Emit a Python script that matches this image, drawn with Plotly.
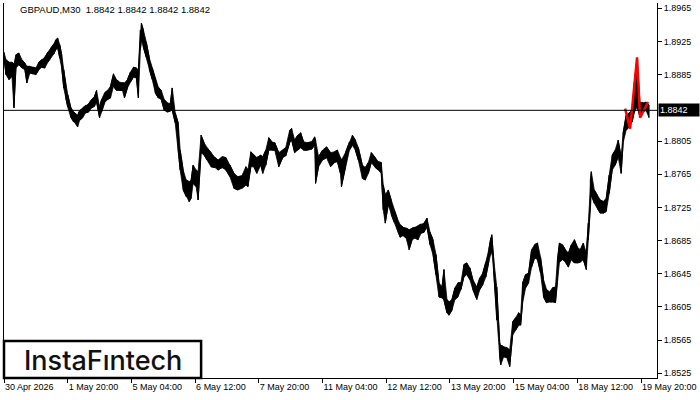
import plotly.graph_objects as go

# ---- data ----
bar = [0,2,5,8,10,12,15,18,21,23,26,29,32,35,38,41,44,47,50,52,54,56,58,60,62,64,67,70,72,74,76,79,82,85,88,91,93,96,98,101,104,107,110,113,116,119,121,124,127,130,133,135,137,138,140,143,146,149,152,155,158,161,164,167,169,172,175,177,180,183,186,188,190,193,195,198,201,204,208,212,215,219,223,227,231,235,239,243,245,248,251,254,258,260,263,266,269,272,276,280,283,287,289,292,295,298,301,305,309,312,313,316,320,324,328,332,335,338,339,343,347,350,353,356,360,363,366,369,373,376,379,381,383,386,389,392,395,398,401,404,407,410,413,416,419,422,425,428,431,434,437,440,442,445,447,450,453,456,459,462,465,468,471,475,478,481,484,487,489,490,492,495,498,499,502,505,508,511,514,517,519,521,524,527,530,533,536,539,542,545,548,551,554,556,558,561,564,567,570,573,576,579,582,585,587,589,590,593,596,599,602,605,608,611,614,617,620,622,625,628,631,633,636,639,642,645,648]

high = [1.8912,1.8903,1.8900,1.8900,1.8898,1.8909,1.8911,1.8903,1.8899,1.8895,1.8895,1.8894,1.8893,1.8900,1.8903,1.8906,1.8912,1.8917,1.8922,1.8927,1.8929,1.8921,1.8909,1.8891,1.8873,1.8861,1.8846,1.8840,1.8838,1.8836,1.8842,1.8845,1.8848,1.8850,1.8855,1.8859,1.8866,1.8846,1.8855,1.8863,1.8866,1.8871,1.8886,1.8879,1.8876,1.8875,1.8875,1.8879,1.8888,1.8894,1.8893,1.8891,1.8939,1.8947,1.8939,1.8924,1.8905,1.8893,1.8879,1.8870,1.8866,1.8855,1.8851,1.8850,1.8869,1.8839,1.8827,1.8794,1.8770,1.8758,1.8756,1.8758,1.8776,1.8770,1.8768,1.8812,1.8803,1.8797,1.8791,1.8785,1.8782,1.8786,1.8785,1.8776,1.8766,1.8762,1.8763,1.8774,1.8770,1.8792,1.8788,1.8785,1.8788,1.8786,1.8794,1.8809,1.8804,1.8803,1.8791,1.8794,1.8797,1.8818,1.8820,1.8806,1.8812,1.8815,1.8804,1.8803,1.8804,1.8810,1.8806,1.8786,1.8794,1.8798,1.8791,1.8792,1.8794,1.8785,1.8782,1.8791,1.8804,1.8812,1.8806,1.8797,1.8776,1.8773,1.8779,1.8791,1.8785,1.8780,1.8779,1.8752,1.8740,1.8746,1.8734,1.8722,1.8712,1.8704,1.8701,1.8700,1.8698,1.8700,1.8701,1.8703,1.8705,1.8706,1.8712,1.8695,1.8686,1.8668,1.8634,1.8629,1.8650,1.8614,1.8611,1.8614,1.8628,1.8634,1.8634,1.8656,1.8658,1.8652,1.8638,1.8629,1.8640,1.8646,1.8659,1.8674,1.8688,1.8692,1.8662,1.8629,1.8562,1.8559,1.8557,1.8556,1.8553,1.8587,1.8592,1.8598,1.8595,1.8634,1.8644,1.8646,1.8674,1.8680,1.8682,1.8665,1.8638,1.8626,1.8623,1.8628,1.8629,1.8662,1.8682,1.8680,1.8674,1.8670,1.8680,1.8686,1.8677,1.8674,1.8682,1.8670,1.8706,1.8758,1.8768,1.8746,1.8740,1.8734,1.8732,1.8736,1.8764,1.8788,1.8794,1.8806,1.8786,1.8815,1.8836,1.8839,1.8842,1.8873,1.8905,1.8851,1.8851,1.8852,1.8848]

low = [1.8905,1.8885,1.8879,1.8883,1.8845,1.8893,1.8897,1.8893,1.8891,1.8875,1.8887,1.8886,1.8885,1.8891,1.8894,1.8893,1.8900,1.8905,1.8910,1.8915,1.8917,1.8905,1.8893,1.8869,1.8857,1.8846,1.8834,1.8828,1.8826,1.8822,1.8830,1.8833,1.8839,1.8840,1.8845,1.8847,1.8852,1.8833,1.8840,1.8851,1.8855,1.8857,1.8871,1.8866,1.8866,1.8866,1.8857,1.8869,1.8876,1.8882,1.8881,1.8857,1.8915,1.8927,1.8918,1.8906,1.8891,1.8879,1.8863,1.8857,1.8855,1.8842,1.8840,1.8841,1.8842,1.8827,1.8794,1.8770,1.8746,1.8738,1.8732,1.8736,1.8754,1.8750,1.8734,1.8791,1.8788,1.8782,1.8774,1.8773,1.8770,1.8773,1.8770,1.8762,1.8748,1.8746,1.8748,1.8752,1.8750,1.8774,1.8774,1.8766,1.8776,1.8766,1.8776,1.8794,1.8794,1.8794,1.8774,1.8785,1.8787,1.8803,1.8806,1.8791,1.8794,1.8797,1.8794,1.8794,1.8795,1.8800,1.8754,1.8774,1.8782,1.8785,1.8774,1.8779,1.8780,1.8766,1.8750,1.8774,1.8794,1.8800,1.8794,1.8782,1.8760,1.8758,1.8766,1.8779,1.8773,1.8770,1.8766,1.8722,1.8706,1.8728,1.8716,1.8707,1.8698,1.8689,1.8691,1.8688,1.8674,1.8686,1.8688,1.8686,1.8694,1.8695,1.8701,1.8680,1.8668,1.8644,1.8617,1.8616,1.8613,1.8598,1.8595,1.8601,1.8614,1.8617,1.8626,1.8641,1.8644,1.8638,1.8626,1.8614,1.8626,1.8632,1.8641,1.8659,1.8668,1.8674,1.8646,1.8589,1.8545,1.8535,1.8545,1.8544,1.8533,1.8571,1.8577,1.8583,1.8583,1.8610,1.8628,1.8634,1.8653,1.8664,1.8662,1.8646,1.8617,1.8610,1.8611,1.8611,1.8610,1.8638,1.8659,1.8662,1.8659,1.8653,1.8662,1.8658,1.8658,1.8659,1.8662,1.8650,1.8686,1.8728,1.8740,1.8730,1.8724,1.8718,1.8718,1.8720,1.8742,1.8770,1.8776,1.8786,1.8766,1.8803,1.8818,1.8822,1.8828,1.8839,1.8846,1.8834,1.8840,1.8842,1.8833]

pattern_bar = [624, 629, 636, 639, 647]
pattern_price = [1.8844, 1.8820, 1.8906, 1.8833, 1.8852]

current_price = 1.8842
title_text = "GBPAUD,M30  1.8842 1.8842 1.8842 1.8842"

x_tick_bars = [0, 64, 128, 192, 256, 320, 384, 448, 512, 576, 640]
x_tick_labels = ["30 Apr 2026", "1 May 20:00", "5 May 04:00", "6 May 12:00",
                 "7 May 20:00", "11 May 04:00", "12 May 12:00", "13 May 20:00",
                 "15 May 04:00", "18 May 12:00", "19 May 20:00"]
y_tick_vals = [1.8525, 1.8565, 1.8605, 1.8645, 1.8685, 1.8725, 1.8765,
               1.8805, 1.8885, 1.8925, 1.8965]

assert len(bar) == len(high) == len(low)

FONT = "Liberation Sans, Arial, sans-serif"

# zig-zag path through each bar's high and low (bar-chart texture)
zig_x, zig_y = [], []
for i, b in enumerate(bar):
    pair = (high[i], low[i]) if i % 2 == 0 else (low[i], high[i])
    zig_x += [b, b]
    zig_y += list(pair)

fig = go.Figure()
fig.add_trace(go.Scatter(x=bar, y=low, mode="lines",
                         line=dict(color="black", width=0.8), hoverinfo="skip",
                         showlegend=False))
fig.add_trace(go.Scatter(x=bar, y=high, mode="lines", fill="tonexty",
                         fillcolor="black",
                         line=dict(color="black", width=0.8), hoverinfo="skip",
                         showlegend=False))
fig.add_trace(go.Scatter(x=zig_x, y=zig_y, mode="lines",
                         line=dict(color="black", width=1), hoverinfo="skip",
                         showlegend=False))
fig.add_hline(y=current_price, line=dict(color="black", width=1))
fig.add_trace(go.Scatter(x=pattern_bar, y=pattern_price, mode="lines",
                         line=dict(color="#ff0000", width=2.5), hoverinfo="skip",
                         showlegend=False))

fig.update_layout(
    width=700, height=400,
    margin=dict(l=3, r=41, t=3, b=22),
    paper_bgcolor="white", plot_bgcolor="white",
    font=dict(family=FONT, size=9, color="black"),
    xaxis=dict(range=[0, 656], showgrid=False, zeroline=False,
               showline=True, linecolor="black", linewidth=1,
               ticks="outside", ticklen=4, tickcolor="black",
               tickvals=x_tick_bars, ticktext=x_tick_labels,
               ticklabelposition="outside right",
               tickfont=dict(family=FONT, size=9, color="black")),
    yaxis=dict(range=[1.85193, 1.89714], side="right", showgrid=False,
               zeroline=False, showline=True, mirror=True,
               linecolor="black", linewidth=1,
               ticks="outside", ticklen=4, tickcolor="black",
               tickvals=y_tick_vals, tickformat=".4f",
               tickfont=dict(family=FONT, size=9, color="black")),
)

fig.add_annotation(xref="paper", yref="y", x=1, y=current_price,
                   xanchor="left", yanchor="middle", xshift=1,
                   text="1.8842", showarrow=False, bgcolor="black",
                   font=dict(family=FONT, size=9, color="white"),
                   width=38, align="left", borderpad=1)

fig.add_annotation(xref="paper", yref="paper", x=(17 - 3) / 656, y=1,
                   xanchor="left", yanchor="top", yshift=1,
                   text=title_text, showarrow=False,
                   font=dict(family=FONT, size=9.5, color="black"))

# logo box
fig.add_shape(type="rect", xref="paper", yref="paper",
              x0=0, x1=(201 - 3) / 656, y0=0, y1=(378 - 341) / 375,
              line=dict(color="black", width=2.5), fillcolor="white",
              layer="above")
fig.add_annotation(xref="paper", yref="paper", x=(102 - 3) / 656,
                   y=(378 - 360) / 375, xanchor="center", yanchor="middle",
                   text="InstaF\u0131ntech", showarrow=False,
                   font=dict(family="Inter, Lato, sans-serif", size=27,
                             color="#111111", weight=500))

fig.write_html("out.html",
               config={"displayModeBar": False},
               post_script="document.body.style.margin='0';"
                           "document.body.style.padding='0';"
                           "document.documentElement.style.overflow='hidden';")
